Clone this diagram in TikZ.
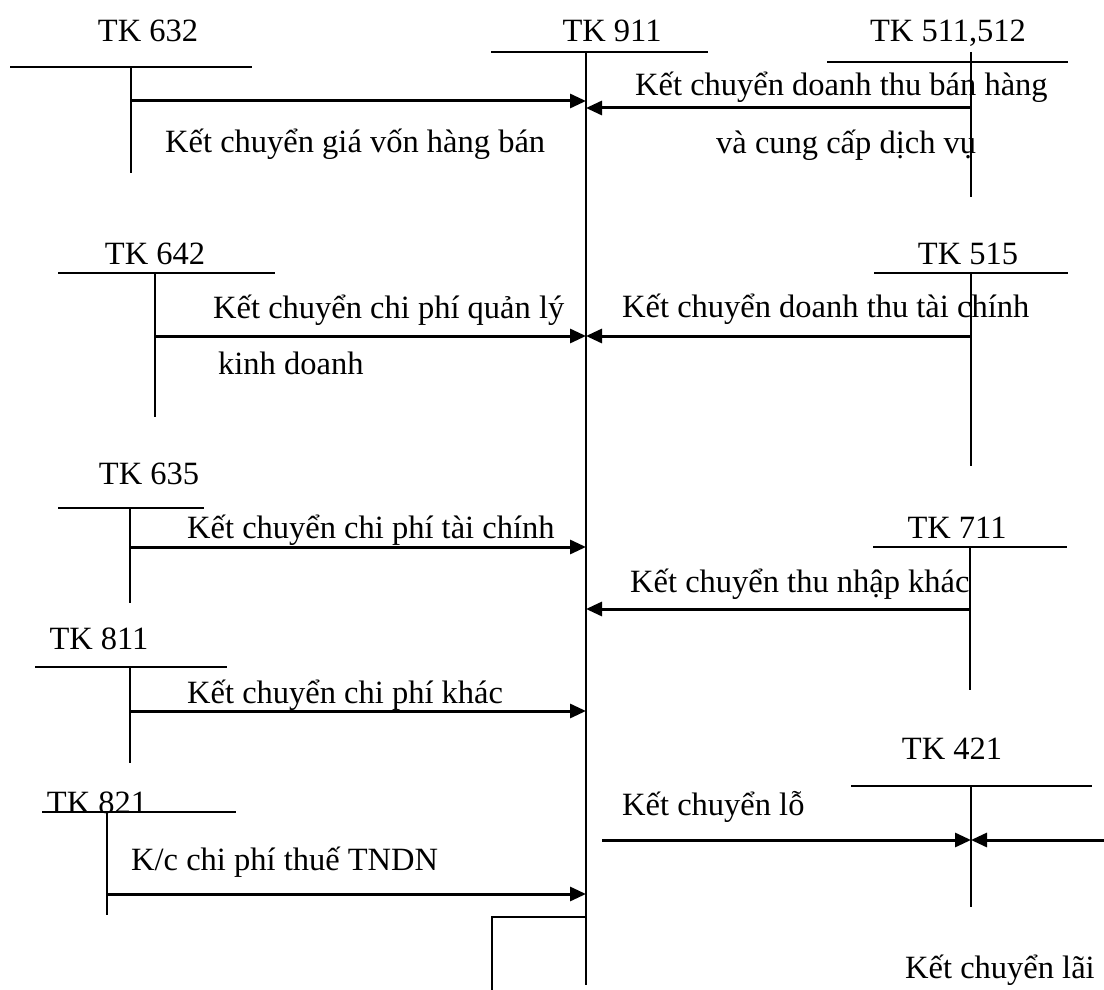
\documentclass[tikz,border=0pt]{standalone}
\usepackage{fontspec}
\setmainfont{Liberation Serif}
\usetikzlibrary{arrows.meta}
\newcommand{\tkfont}{\fontsize{32.5pt}{39pt}\selectfont}
\begin{document}
\begin{tikzpicture}[x=1pt,y=-1pt,
  acc/.style={line width=2pt},
  flow/.style={line width=3pt,-{Triangle[length=16pt,width=14pt]}},
  lbl/.style={font=\tkfont,inner sep=0pt,text height=0.7em,text depth=0.2em},
  note/.style={lbl,anchor=west}]
\useasboundingbox[fill=white] (0,0) rectangle (1104,990);

% ---------- TK 911 (main)
\node[lbl] (t911) at (612,39) {TK 911};
\coordinate (a911l) at (491,52); \coordinate (a911r) at (708,52);
\coordinate (a911t) at (586,52); \coordinate (a911b) at (586,985);
\draw[acc] (a911l) -- (a911r);
\draw[acc] (a911t) -- (a911b);
\coordinate (m632) at (586,101);
\coordinate (m511) at (586,108);
\coordinate (m642) at (586,336);
\coordinate (m635) at (586,547);
\coordinate (m711) at (586,609);
\coordinate (m811) at (586,711);
\coordinate (m821) at (586,894);
\coordinate (mbox) at (586,917);
\coordinate (bx1) at (492,917);
\coordinate (bx2) at (492,990);
\draw[acc] (mbox) -- (bx1) -- (bx2);

% ---------- TK 632
\node[lbl] (t632) at (148,39) {TK 632};
\coordinate (a632l) at (10,67); \coordinate (a632r) at (252,67);
\coordinate (a632t) at (131,67); \coordinate (a632b) at (131,173);
\coordinate (s632) at (131,101);
\draw[acc] (a632l) -- (a632r);
\draw[acc] (a632t) -- (a632b);
\draw[flow] (s632) -- (m632);
\node[note] (n632) at (165,150) {Kết chuyển giá vốn hàng bán};

% ---------- TK 511,512
\node[lbl] (t511) at (948,39) {TK 511,512};
\coordinate (a511l) at (827,62); \coordinate (a511r) at (1068,62);
\coordinate (a511t) at (971,52); \coordinate (a511b) at (971,197);
\coordinate (s511) at (971,108);
\draw[acc] (a511l) -- (a511r);
\draw[acc] (a511t) -- (a511b);
\draw[flow] (s511) -- (m511);
\node[note] (n511a) at (635,93) {Kết chuyển doanh thu bán hàng};
\node[note] (n511b) at (716,151) {và cung cấp dịch vụ};

% ---------- TK 642
\node[lbl] (t642) at (155,262) {TK 642};
\coordinate (a642l) at (58,273); \coordinate (a642r) at (275,273);
\coordinate (a642t) at (155,273); \coordinate (a642b) at (155,417);
\coordinate (s642) at (155,336);
\draw[acc] (a642l) -- (a642r);
\draw[acc] (a642t) -- (a642b);
\draw[flow] (s642) -- (m642);
\node[note] (n642a) at (213,316) {Kết chuyển chi phí quản lý};
\node[note] (n642b) at (218,372) {kinh doanh};

% ---------- TK 515
\node[lbl] (t515) at (968,262) {TK 515};
\coordinate (a515l) at (874,273); \coordinate (a515r) at (1068,273);
\coordinate (a515t) at (971,273); \coordinate (a515b) at (971,466);
\coordinate (s515) at (971,336);
\draw[acc] (a515l) -- (a515r);
\draw[acc] (a515t) -- (a515b);
\draw[flow] (s515) -- (m642);
\node[note] (n515) at (622,315) {Kết chuyển doanh thu tài chính};

% ---------- TK 635
\node[lbl] (t635) at (149,482) {TK 635};
\coordinate (a635l) at (58,508); \coordinate (a635r) at (204,508);
\coordinate (a635t) at (130,508); \coordinate (a635b) at (130,603);
\coordinate (s635) at (130,547);
\draw[acc] (a635l) -- (a635r);
\draw[acc] (a635t) -- (a635b);
\draw[flow] (s635) -- (m635);
\node[note] (n635) at (187,536) {Kết chuyển chi phí tài chính};

% ---------- TK 711
\node[lbl] (t711) at (957,536) {TK 711};
\coordinate (a711l) at (873,547); \coordinate (a711r) at (1067,547);
\coordinate (a711t) at (970,547); \coordinate (a711b) at (970,690);
\coordinate (s711) at (970,609);
\draw[acc] (a711l) -- (a711r);
\draw[acc] (a711t) -- (a711b);
\draw[flow] (s711) -- (m711);
\node[note] (n711) at (630,590) {Kết chuyển thu nhập khác};

% ---------- TK 811
\node[lbl] (t811) at (99,647) {TK 811};
\coordinate (a811l) at (35,667); \coordinate (a811r) at (227,667);
\coordinate (a811t) at (130,667); \coordinate (a811b) at (130,763);
\coordinate (s811) at (130,711);
\draw[acc] (a811l) -- (a811r);
\draw[acc] (a811t) -- (a811b);
\draw[flow] (s811) -- (m811);
\node[note] (n811) at (187,701) {Kết chuyển chi phí khác};

% ---------- TK 421
\node[lbl] (t421) at (952,757) {TK 421};
\coordinate (a421l) at (851,786); \coordinate (a421r) at (1092,786);
\coordinate (a421t) at (971,786); \coordinate (a421b) at (971,907);
\coordinate (m421) at (971,840);
\coordinate (lo) at (602,840);
\coordinate (lai) at (1104,840);
\draw[acc] (a421l) -- (a421r);
\draw[acc] (a421t) -- (a421b);
\draw[flow] (lo) -- (m421);
\draw[flow] (lai) -- (m421);
\node[note] (nlo) at (622,813) {Kết chuyển lỗ};
\node[note] (nlai) at (905,976) {Kết chuyển lãi};

% ---------- TK 821
\node[lbl,anchor=base] (t821) at (97,813) {TK 821};
\coordinate (a821l) at (42,812); \coordinate (a821r) at (236,812);
\coordinate (a821t) at (107,812); \coordinate (a821b) at (107,915);
\coordinate (s821) at (107,894);
\draw[acc] (a821l) -- (a821r);
\draw[acc] (a821t) -- (a821b);
\draw[flow] (s821) -- (m821);
\node[note] (n821) at (131,868) {K/c chi phí thuế TNDN};
\end{tikzpicture}
\end{document}
